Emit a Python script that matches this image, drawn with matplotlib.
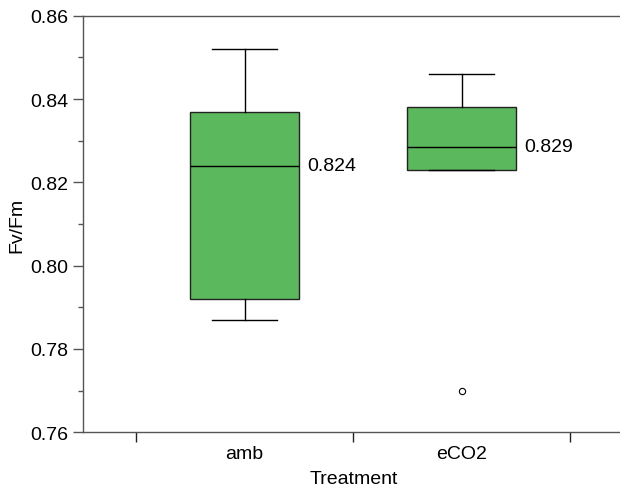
import matplotlib
matplotlib.use("Agg")
import matplotlib.pyplot as plt
from matplotlib.ticker import MultipleLocator, FixedLocator, NullFormatter

plt.rcParams['font.family'] = ['Liberation Sans', 'DejaVu Sans']

# summary values
gruppen = ["amb", "eCO2"]
q1 = [0.792, 0.823]
median = [0.824, 0.8286]
q3 = [0.837, 0.838]
whisker_lo = [0.787, 0.823]
whisker_hi = [0.852, 0.846]
ausreisser = [[], [0.770]]

stats = []
for i in range(len(gruppen)):
    stats.append({"label": gruppen[i], "q1": q1[i], "med": median[i], "q3": q3[i],
                  "whislo": whisker_lo[i], "whishi": whisker_hi[i], "fliers": ausreisser[i]})

fig = plt.figure(figsize=(6.2, 4.89), dpi=100)
ax = fig.add_axes([82.5 / 620, 1 - 433.3 / 489, 537.5 / 620, 416.6 / 489])

pos = list(range(1, len(gruppen) + 1))
ax.bxp(stats, positions=pos, widths=0.5, patch_artist=True, showfliers=True,
       boxprops=dict(facecolor="#5cb85c", edgecolor="#222222", linewidth=1),
       medianprops=dict(color="black", linewidth=1),
       whiskerprops=dict(color="black", linewidth=1),
       capprops=dict(color="black", linewidth=1),
       capwidths=0.3,
       flierprops=dict(marker="o", markersize=4.5, markerfacecolor="none",
                       markeredgecolor="black", markeredgewidth=0.8))

for p, m in zip(pos, median):
    ax.annotate("%.3f" % m, xy=(p + 0.25, m), xytext=(6, 0), textcoords="offset points",
                ha="left", va="center", fontsize=14)

ax.set_ylim(0.76, 0.86)
ax.set_xlim(0.2535, 2.73)
ax.yaxis.set_major_locator(MultipleLocator(0.02))
ax.yaxis.set_minor_locator(MultipleLocator(0.01))
ax.yaxis.set_major_formatter(matplotlib.ticker.FormatStrFormatter("%.2f"))

ax.xaxis.set_major_locator(FixedLocator([0.5, 1.5, 2.5]))
ax.xaxis.set_major_formatter(NullFormatter())
ax.xaxis.set_minor_locator(FixedLocator(pos))
ax.xaxis.set_minor_formatter(matplotlib.ticker.FixedFormatter(gruppen))

ax.tick_params(axis="y", which="major", length=7.2, width=1, color="#555555", pad=3, labelsize=14)
ax.tick_params(axis="y", which="minor", length=3.6, width=1, color="#555555")
ax.tick_params(axis="x", which="major", length=7.2, width=1, color="#222222")
ax.tick_params(axis="x", which="minor", length=0, pad=9, labelsize=14)

for s in ["left", "bottom", "top"]:
    ax.spines[s].set_color("#555555")
    ax.spines[s].set_linewidth(1)
ax.spines["right"].set_visible(False)

fig.text(17 / 620, 1 - 225 / 489, "Fv/Fm", rotation=90, ha="center", va="center", fontsize=14)
fig.text(354 / 620, 1 - 480 / 489, "Treatment", ha="center", va="center", fontsize=14)

fig.savefig("out.png", dpi=100)
